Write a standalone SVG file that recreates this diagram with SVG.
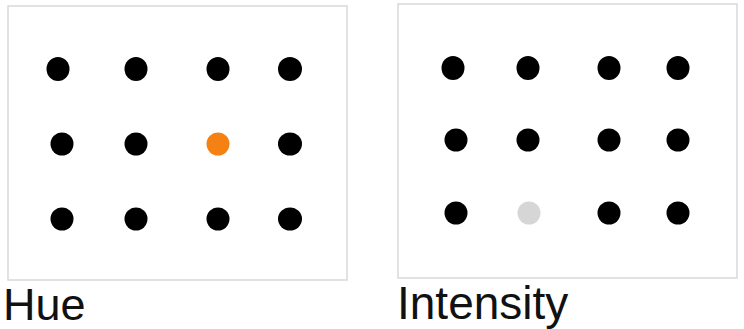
<svg xmlns="http://www.w3.org/2000/svg" width="744" height="329" viewBox="0 0 744 329">
<style>
.box{fill:#fff;stroke:#d9d9d9;stroke-width:1.5}
.d{fill:#000}
.lbl{font-family:"Liberation Sans",Arial,sans-serif;font-size:45px;fill:#111}
</style>
<rect width="744" height="329" fill="#fff"/>
<g id="hue">
<rect class="box" x="8" y="6" width="339" height="274"/>
<ellipse class="d" cx="58" cy="69" rx="11.5" ry="12"/>
<ellipse class="d" cx="136" cy="69" rx="11.5" ry="12"/>
<ellipse class="d" cx="218" cy="69" rx="11.5" ry="12"/>
<ellipse class="d" cx="290" cy="69" rx="12" ry="12"/>
<ellipse class="d" cx="62" cy="144" rx="11.5" ry="11.5"/>
<ellipse class="d" cx="136" cy="144" rx="11.5" ry="11.5"/>
<circle cx="218" cy="144" r="11.5" fill="#f58014"/>
<ellipse class="d" cx="290" cy="144" rx="12" ry="11.5"/>
<ellipse class="d" cx="62" cy="219" rx="11.5" ry="11.5"/>
<ellipse class="d" cx="136" cy="219" rx="11.5" ry="11.5"/>
<ellipse class="d" cx="218" cy="219" rx="11.5" ry="11.5"/>
<ellipse class="d" cx="290" cy="219" rx="12" ry="11.5"/>
<text class="lbl" x="3" y="320">Hue</text>
</g>
<g id="intensity">
<rect class="box" x="398" y="4" width="339" height="274"/>
<ellipse class="d" cx="453" cy="68" rx="11.5" ry="12"/>
<ellipse class="d" cx="528" cy="68" rx="11.5" ry="12"/>
<ellipse class="d" cx="609" cy="68" rx="11.5" ry="12"/>
<ellipse class="d" cx="678" cy="68" rx="11.5" ry="12"/>
<ellipse class="d" cx="456" cy="140" rx="11.5" ry="11.5"/>
<ellipse class="d" cx="528" cy="140" rx="11.5" ry="11.5"/>
<ellipse class="d" cx="609" cy="140" rx="11.5" ry="11.5"/>
<ellipse class="d" cx="678" cy="140" rx="11.5" ry="11.5"/>
<ellipse class="d" cx="456" cy="213" rx="11.5" ry="11.5"/>
<circle cx="529" cy="213" r="11.5" fill="#d6d6d6"/>
<ellipse class="d" cx="609" cy="213" rx="11.5" ry="11.5"/>
<ellipse class="d" cx="678" cy="213" rx="11.5" ry="11.5"/>
<text class="lbl" x="397" y="319" style="font-size:46px">Intensity</text>
</g>
<g id="connectors"/>
</svg>
